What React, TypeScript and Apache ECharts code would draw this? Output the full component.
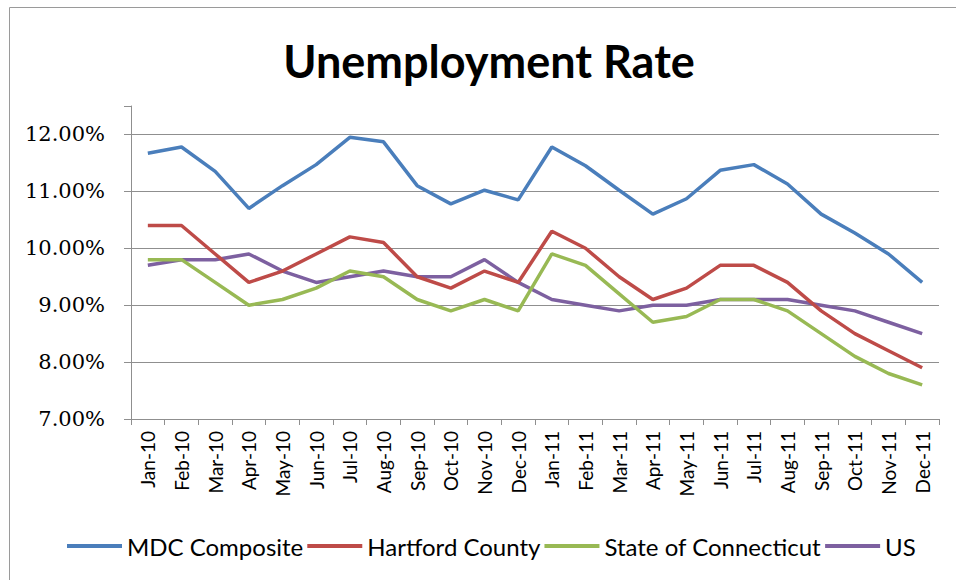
import React, { useEffect, useRef } from "react";
import * as echarts from "echarts";

const categories = [
  "Jan-10", "Feb-10", "Mar-10", "Apr-10", "May-10", "Jun-10", "Jul-10", "Aug-10", "Sep-10", "Oct-10", "Nov-10", "Dec-10",
  "Jan-11", "Feb-11", "Mar-11", "Apr-11", "May-11", "Jun-11", "Jul-11", "Aug-11", "Sep-11", "Oct-11", "Nov-11", "Dec-11",
];

const mdcComposite = [11.67, 11.78, 11.35, 10.7, 11.1, 11.47, 11.95, 11.87, 11.1, 10.78, 11.02, 10.85, 11.78, 11.45, 11.02, 10.6, 10.87, 11.37, 11.47, 11.13, 10.6, 10.27, 9.9, 9.4];
const hartfordCounty = [10.4, 10.4, 9.9, 9.4, 9.6, 9.9, 10.2, 10.1, 9.5, 9.3, 9.6, 9.4, 10.3, 10.0, 9.5, 9.1, 9.3, 9.7, 9.7, 9.4, 8.9, 8.5, 8.2, 7.9];
const stateOfConnecticut = [9.8, 9.8, 9.4, 9.0, 9.1, 9.3, 9.6, 9.5, 9.1, 8.9, 9.1, 8.9, 9.9, 9.7, 9.2, 8.7, 8.8, 9.1, 9.1, 8.9, 8.5, 8.1, 7.8, 7.6];
const us = [9.7, 9.8, 9.8, 9.9, 9.6, 9.4, 9.5, 9.6, 9.5, 9.5, 9.8, 9.4, 9.1, 9.0, 8.9, 9.0, 9.0, 9.1, 9.1, 9.1, 9.0, 8.9, 8.7, 8.5];

const seriesNames = ["MDC Composite", "Hartford County", "State of Connecticut", "US"];
const seriesColors = ["#4A7EBB", "#BE4B48", "#98B954", "#7D60A0"];

const yMin = 7;
const yMax = 12.5;
const yInterval = 1;

export default function App() {
  const ref = useRef<HTMLDivElement>(null);
  useEffect(() => {
    if (!ref.current) return;
    const chart = echarts.init(ref.current, undefined, { renderer: "svg" });
    const dataSets = [mdcComposite, hartfordCounty, stateOfConnecticut, us];
    const gridColor = "#8f8f8f";
    const yLabelStyle = { fontFamily: "DejaVu Serif", fontSize: 21, color: "#000" };
    chart.setOption({
      animation: false,
      backgroundColor: "#ffffff",
      graphic: [
        {
          type: "rect",
          shape: { x: 9.5, y: 7.5, width: 960, height: 600 },
          style: { fill: "none", stroke: "#9a9a9a", lineWidth: 1 },
          silent: true,
        },
      ],
      title: {
        text: "Unemployment Rate",
        left: 484,
        textAlign: "center",
        top: 33,
        textStyle: { fontFamily: "Lato", fontWeight: "bold", fontSize: 45, color: "#000" },
      },
      legend: {
        data: seriesNames,
        left: 62,
        top: 529,
        itemWidth: 55,
        itemHeight: 4,
        itemGap: 4,
        icon: "rect",
        textStyle: { fontFamily: "Lato", fontSize: 24, color: "#000", padding: [0, 0, 0, 0] },
      },
      grid: { left: 131, right: 17, top: 106, bottom: 161, containLabel: false },
      xAxis: {
        type: "category",
        data: categories,
        boundaryGap: true,
        axisLine: { lineStyle: { color: gridColor, width: 1 } },
        axisTick: { show: true, length: 6, alignWithLabel: false, lineStyle: { color: gridColor } },
        axisLabel: { rotate: 90, margin: 12, interval: 0, fontFamily: "Lato", fontSize: 19, color: "#000" },
        splitLine: { show: false },
      },
      yAxis: {
        type: "value",
        min: yMin,
        max: yMax,
        interval: yInterval,
        axisLine: { show: true, lineStyle: { color: gridColor, width: 1 } },
        axisTick: { show: true, inside: false, length: 7, lineStyle: { color: gridColor } },
        axisLabel: {
          show: true,
          margin: 26,
          ...yLabelStyle,
          rich: { v: yLabelStyle },
          formatter: (v: number) => (v > 12 ? "" : "{v|" + v.toFixed(2) + "%}"),
        },
        splitLine: {
          show: true,
          lineStyle: {
            color: [gridColor, gridColor, gridColor, gridColor, gridColor, gridColor, "rgba(0,0,0,0)"],
            width: 1,
          },
        },
      },
      series: dataSets.map((d, i) => ({
        name: seriesNames[i],
        type: "line",
        data: d,
        symbol: "none",
        color: seriesColors[i],
        lineStyle: { width: 3.5, color: seriesColors[i] },
        z: 10 - i,
      })),
    });
    return () => chart.dispose();
  }, []);
  return <div ref={ref} style={{ position: "fixed", left: 0, top: 0, width: 956, height: 580 }} />;
}
